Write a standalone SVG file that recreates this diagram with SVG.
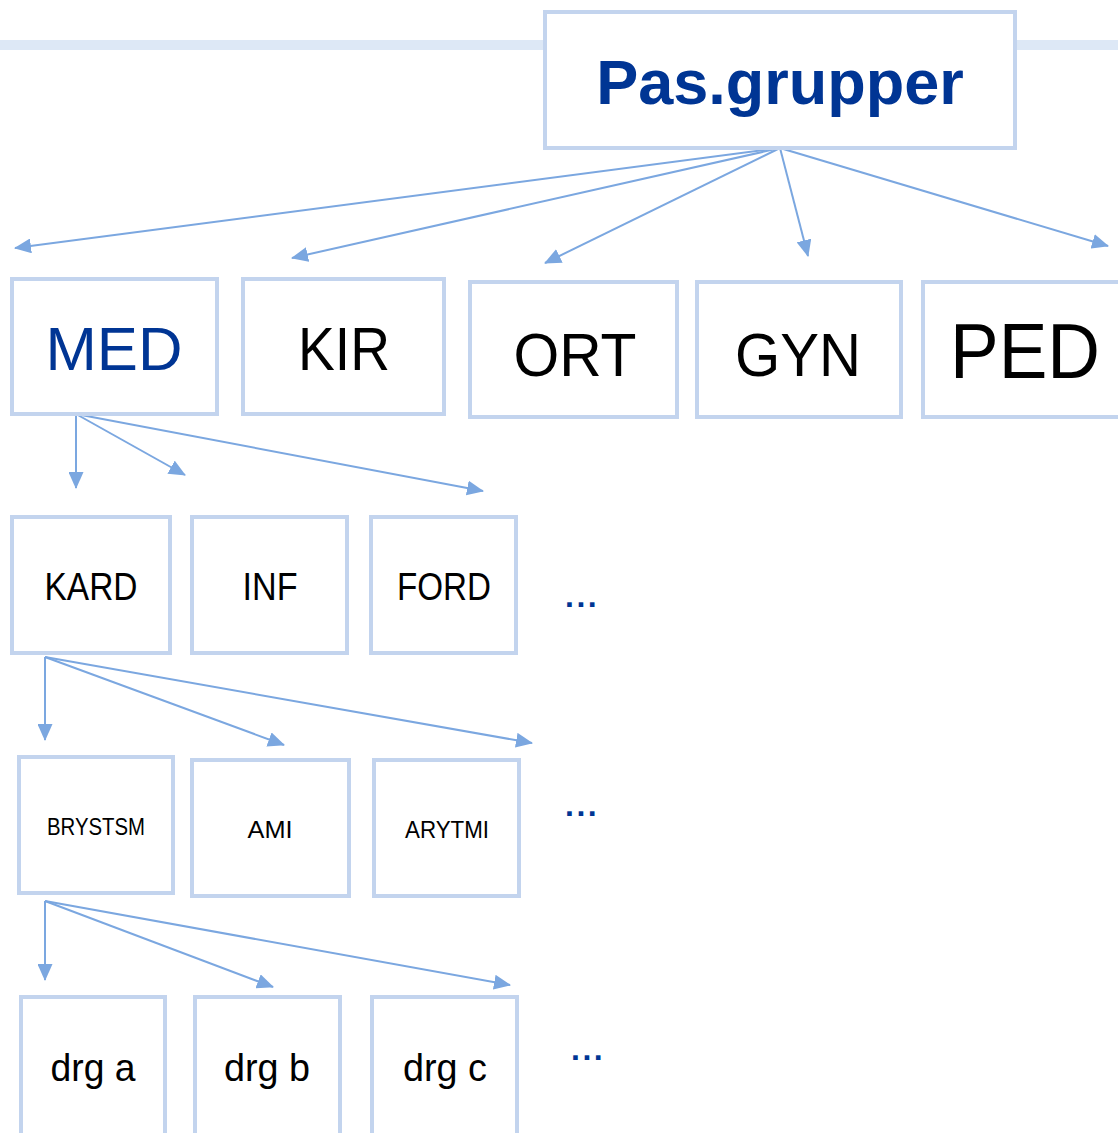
<svg xmlns="http://www.w3.org/2000/svg" width="1118" height="1133" viewBox="0 0 1118 1133">
<defs>
<style>
.box{fill:#fff;stroke:#C3D4EE;stroke-width:4}
.lbl{font-family:"Liberation Sans",Arial,sans-serif;fill:#000;text-anchor:middle}
.conn line{stroke:#7BA7E0;stroke-width:2;marker-end:url(#ah)}
.dots{font-family:"Liberation Sans",Arial,sans-serif;font-weight:bold;fill:#003594;font-size:32px;letter-spacing:2.5px}
</style>
<marker id="ah" markerUnits="userSpaceOnUse" markerWidth="17" markerHeight="15" refX="16" refY="7.5" orient="auto" viewBox="0 0 17 15">
<path d="M0,0 L17,7.5 L0,15 z" fill="#7BA7E0"/>
</marker>
</defs>
<rect width="1118" height="1133" fill="#fff"/>
<rect x="0" y="40" width="1118" height="10" fill="#DDE8F6"/>

<g id="connectors" class="conn">
<line x1="780" y1="148" x2="15" y2="248"/>
<line x1="780" y1="148" x2="292" y2="258"/>
<line x1="780" y1="148" x2="545" y2="263"/>
<line x1="780" y1="148" x2="808" y2="256"/>
<line x1="780" y1="148" x2="1108" y2="246"/>
<line x1="76" y1="414" x2="76" y2="488"/>
<line x1="76" y1="414" x2="185" y2="475"/>
<line x1="76" y1="414" x2="483" y2="491"/>
<line x1="45" y1="657" x2="45" y2="740"/>
<line x1="45" y1="657" x2="284" y2="745"/>
<line x1="45" y1="657" x2="532" y2="743"/>
<line x1="45" y1="901" x2="45" y2="980"/>
<line x1="45" y1="901" x2="273" y2="987"/>
<line x1="45" y1="901" x2="510" y2="985"/>
</g>

<g id="node-pasgrupper">
<rect class="box" x="545" y="12" width="470" height="136"/>
<text x="780" y="104" font-family="'Liberation Sans',Arial,sans-serif" font-weight="bold" font-size="63" fill="#003594" text-anchor="middle">Pas.grupper</text>
</g>

<g id="node-med"><rect class="box" x="12" y="279" width="205" height="135"/>
<text class="lbl" x="114" y="370" font-size="62" style="fill:#003594" textLength="137" lengthAdjust="spacingAndGlyphs">MED</text></g>
<g id="node-kir"><rect class="box" x="243" y="279" width="201" height="135"/>
<text class="lbl" x="344" y="370" font-size="62" textLength="92" lengthAdjust="spacingAndGlyphs">KIR</text></g>
<g id="node-ort"><rect class="box" x="470" y="282" width="207" height="135"/>
<text class="lbl" x="575" y="376" font-size="62" textLength="123" lengthAdjust="spacingAndGlyphs">ORT</text></g>
<g id="node-gyn"><rect class="box" x="697" y="282" width="204" height="135"/>
<text class="lbl" x="798" y="376" font-size="62" textLength="126" lengthAdjust="spacingAndGlyphs">GYN</text></g>
<g id="node-ped"><rect class="box" x="923" y="282" width="210" height="135"/>
<text class="lbl" x="1025" y="378" font-size="77" textLength="150" lengthAdjust="spacingAndGlyphs">PED</text></g>

<g id="node-kard"><rect class="box" x="12" y="517" width="158" height="136"/>
<text class="lbl" x="91" y="600" font-size="38" textLength="93" lengthAdjust="spacingAndGlyphs">KARD</text></g>
<g id="node-inf"><rect class="box" x="192" y="517" width="155" height="136"/>
<text class="lbl" x="270" y="600" font-size="38" textLength="55" lengthAdjust="spacingAndGlyphs">INF</text></g>
<g id="node-ford"><rect class="box" x="371" y="517" width="145" height="136"/>
<text class="lbl" x="444" y="600" font-size="38" textLength="94" lengthAdjust="spacingAndGlyphs">FORD</text></g>
<text class="dots" x="565" y="607">...</text>

<g id="node-brystsm"><rect class="box" x="19" y="757" width="154" height="136"/>
<text class="lbl" x="96" y="835" font-size="23" textLength="98" lengthAdjust="spacingAndGlyphs">BRYSTSM</text></g>
<g id="node-ami"><rect class="box" x="192" y="760" width="157" height="136"/>
<text class="lbl" x="270" y="838" font-size="23" textLength="45" lengthAdjust="spacingAndGlyphs">AMI</text></g>
<g id="node-arytmi"><rect class="box" x="374" y="760" width="145" height="136"/>
<text class="lbl" x="447" y="838" font-size="23" textLength="84" lengthAdjust="spacingAndGlyphs">ARYTMI</text></g>
<text class="dots" x="565" y="816">...</text>

<g id="node-drga"><rect class="box" x="21" y="997" width="144" height="145"/>
<text class="lbl" x="93" y="1081" font-size="39" textLength="85" lengthAdjust="spacingAndGlyphs">drg a</text></g>
<g id="node-drgb"><rect class="box" x="195" y="997" width="145" height="145"/>
<text class="lbl" x="267" y="1081" font-size="39" textLength="86" lengthAdjust="spacingAndGlyphs">drg b</text></g>
<g id="node-drgc"><rect class="box" x="372" y="997" width="145" height="145"/>
<text class="lbl" x="445" y="1081" font-size="39" textLength="84" lengthAdjust="spacingAndGlyphs">drg c</text></g>
<text class="dots" x="571" y="1060">...</text>
</svg>
